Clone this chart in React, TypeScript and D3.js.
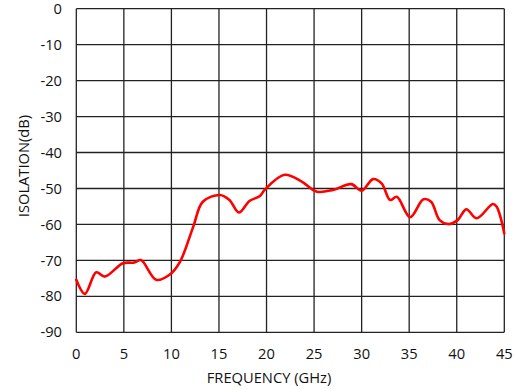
import React from "react";
import * as d3 from "d3";

// frequency (GHz) and isolation (dB)
const freq = [0, 0.9, 2.1, 3.0, 4.9, 6.1, 6.8, 8.4, 9.8, 10.9, 12.3, 13.3, 15.1, 16.1, 17.1, 18.2, 19.3, 19.8, 21.9, 23.7, 25.3, 27.0, 28.9, 30.0, 31.2, 32.1, 33.0, 33.7, 35.1, 36.5, 37.3, 38.2, 39.1, 40.1, 41.0, 42.1, 43.8, 44.2, 45];
const isolation = [-75.4, -79.3, -73.3, -74.5, -70.8, -70.6, -69.9, -75.4, -74.0, -70.4, -60.6, -53.7, -51.8, -53.2, -56.7, -53.5, -52.1, -50.4, -46.2, -48.1, -50.9, -50.4, -48.8, -50.6, -47.4, -48.6, -53.2, -52.3, -58.0, -53.0, -53.7, -58.8, -59.9, -58.8, -55.8, -58.3, -54.3, -55.1, -62.5];
const xTicks = [0, 5, 10, 15, 20, 25, 30, 35, 40, 45];
const yTicks = [0, -10, -20, -30, -40, -50, -60, -70, -80, -90];

const W = 514;
const H = 389;
const margin = { left: 76.3, top: 8.7, right: 9.7, bottom: 56.7 };

export default function App() {
  const x = d3.scaleLinear().domain([0, 45]).range([margin.left, W - margin.right]);
  const y = d3.scaleLinear().domain([0, -90]).range([margin.top, H - margin.bottom]);
  const pts = freq.map((f, i) => [f, isolation[i]] as [number, number]);
  const line = d3
    .line<[number, number]>()
    .x((d) => x(d[0]))
    .y((d) => y(d[1]))
    .curve(d3.curveCatmullRom.alpha(0.5));
  const font = "Open Sans, sans-serif";
  const fs = 14.7;
  return (
    <svg width={W} height={H} style={{ position: "absolute", left: 0, top: 0, background: "#fff" }}>
      {xTicks.map((t) => (
        <line key={"vx" + t} x1={x(t)} x2={x(t)} y1={y(0)} y2={y(-90)} stroke="#222" strokeWidth={1.3} />
      ))}
      {yTicks.map((t) => (
        <line key={"hy" + t} x1={x(0)} x2={x(45)} y1={y(t)} y2={y(t)} stroke="#222" strokeWidth={1.3} />
      ))}
      <path d={line(pts) ?? ""} fill="none" stroke="#ff0000" strokeWidth={2.6} strokeLinejoin="round" strokeLinecap="round" />
      {yTicks.map((t) => (
        <text key={"yl" + t} x={62} y={y(t)} dy="0.35em" textAnchor="end" fontFamily={font} fontSize={fs} fill="#111">
          {t}
        </text>
      ))}
      {xTicks.map((t) => (
        <text key={"xl" + t} x={x(t)} y={354} dy="0.35em" textAnchor="middle" fontFamily={font} fontSize={fs} fill="#111">
          {t}
        </text>
      ))}
      <text x={269} y={378} dy="0.35em" textAnchor="middle" fontFamily={font} fontSize={fs} fill="#111">
        FREQUENCY (GHz)
      </text>
      <text
        transform={`translate(24,166) rotate(-90)`}
        dy="0.35em"
        textAnchor="middle"
        fontFamily={font}
        fontSize={fs}
        fill="#111"
      >
        ISOLATION(dB)
      </text>
    </svg>
  );
}
